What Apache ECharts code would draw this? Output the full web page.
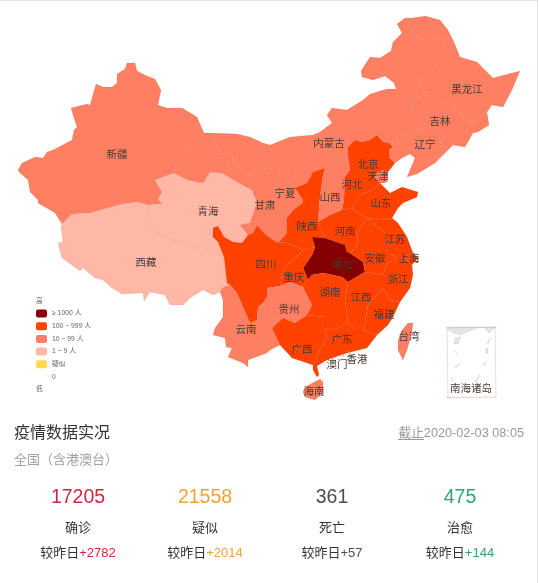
<!DOCTYPE html>
<html><head><meta charset="utf-8">
<script src="https://cdn.jsdelivr.net/npm/echarts@6/dist/echarts.min.js"></script>
<style>
html,body{margin:0;padding:0;background:#fff;overflow:hidden}
#c{position:absolute;left:0;top:0;width:540px;height:583px}
#t{position:absolute;left:0;top:0;width:538px;height:583px;box-sizing:border-box;border-top:1.5px solid #e6e6e6;border-right:1.5px solid #e6e6e6;pointer-events:none}
</style></head><body><div id="c"></div><div id="t"></div>
<script>
// ---- data ----
const provinceNames = ['湖北','浙江','广东','河南','湖南','安徽','江西','重庆','江苏','山东','四川','北京','上海','福建','陕西','广西','河北','云南','黑龙江','海南','山西','辽宁','天津','吉林','甘肃','贵州','内蒙古','宁夏','新疆','香港','台湾','青海','澳门','西藏'];
const provinceValues = [11177,724,683,566,521,408,391,300,271,225,207,212,203,179,128,127,126,99,95,71,66,64,60,42,40,38,34,31,21,15,10,9,8,1];
const legendLabels = ['≥ 1000 人','100 ~ 999 人','10 ~ 99 人','1 ~ 9 人','疑似','0'];
const statNames = ['确诊','疑似','死亡','治愈'];
const statValues = ['17205','21558','361','475'];
const statDeltas = ['+2782','+2014','+57','+144'];
const headline = '疫情数据实况';
const scopeText = '全国（含港澳台）';
const updatedAt = '2020-02-03 08:05';

// ---- map geometry: shared province borders ----
const A = {
xj_outer:[[62,224],[55,213],[38,203],[38,200],[30,192],[28,180],[20,173],[18,170],[22,163],[35,157],[43,158],[47,152],[53,150],[72,140],[74,130],[77,127],[73,115],[71,108],[87,104],[90,105],[96,84],[103,87],[112,87],[117,83],[117,74],[125,69],[127,63],[135,63],[137,71],[147,76],[155,79],[161,90],[158,105],[167,108],[182,108],[197,117],[204,133]],
xj_gs:[[204,133],[201,138],[193,144],[183,148],[176,163],[174,173]],
xj_qh:[[174,173],[155,180],[162,192],[158,199],[162,204],[148,205]],
xj_xz:[[148,205],[137,202],[122,204],[90,213],[72,214],[62,224]],
xz_outer:[[62,224],[61,228],[63,242],[58,243],[62,258],[80,271],[83,268],[95,278],[103,280],[112,288],[122,294],[143,293],[144,301],[150,292],[165,295],[170,305],[183,305],[190,298],[203,290],[213,295],[220,292]],
xz_yn:[[220,292],[222,288],[230,285]],
xz_sc:[[230,285],[227,283],[224,257],[218,242]],
qh_xz:[[218,242],[213,245],[202,253],[195,245],[167,238],[150,227],[148,205]],
gs_qh:[[174,173],[188,180],[203,183],[210,172],[222,173],[237,182],[252,190],[257,202],[250,223],[240,225],[248,235]],
qh_sc:[[248,235],[242,243],[233,242],[224,237],[218,226],[213,228],[213,237],[218,242]],
gs_outer:[[204,133],[212,133]],
nm_gs:[[212,133],[220,155],[233,153],[232,163],[248,177],[253,172],[267,168],[283,170]],
gs_nx:[[283,170],[278,177],[275,190],[272,200],[283,213],[293,210]],
nx_nm:[[283,170],[290,173],[288,183],[295,188]],
nx_sn:[[295,188],[303,200],[303,203],[293,210]],
gs_sn:[[293,210],[287,218],[287,233],[278,243]],
gs_sc:[[278,243],[270,238],[263,232],[257,225],[253,233],[248,235]],
nm_sn:[[295,188],[307,183],[313,172],[325,168]],
sn_sxi:[[325,168],[323,175],[320,197],[318,222]],
sn_hn:[[318,222],[322,232],[325,238]],
sn_hb:[[325,238],[312,237],[315,247]],
sn_cq:[[315,247],[303,250]],
sn_sc:[[303,250],[285,242],[278,243]],
nm_sxi:[[325,168],[348,155]],
he_sxi:[[348,155],[350,170],[345,177],[344,200],[342,210]],
hn_sxi:[[342,210],[330,215],[318,222]],
nm_he:[[348,155],[348,147],[355,140],[362,142],[370,140],[377,135],[383,142],[389,143],[393,147]],
ln_he:[[393,147],[389,150],[389,157],[395,163]],
he_coast:[[395,163],[388,172],[387,182],[380,183]],
he_sd:[[380,183],[372,190],[360,195],[352,208]],
he_hn:[[352,208],[342,210]],
sd_coast:[[380,183],[390,193],[402,187],[418,192],[417,197],[403,203],[398,208],[392,218]],
sd_js:[[392,218],[380,220],[367,218]],
sd_hn:[[367,218],[358,213],[352,208]],
ah_hn:[[367,218],[357,233],[358,245],[350,253]],
hb_hn:[[350,253],[347,252],[345,245],[325,238]],
ah_hb:[[350,253],[363,262],[365,272]],
hb_jx:[[365,272],[348,282]],
hb_hun:[[348,282],[342,277],[323,273],[312,275],[308,280]],
hb_cq:[[308,280],[303,268],[312,255],[315,247]],
cq_sc:[[303,250],[293,260],[285,267],[282,275],[280,286]],
cq_gz:[[280,286],[290,282],[303,287]],
cq_hun:[[303,287],[308,280]],
gz_sc:[[280,286],[267,288],[267,297],[263,303]],
sc_yn:[[263,303],[258,307],[257,320],[250,323],[245,312],[237,293],[230,285]],
gz_hun:[[303,287],[308,297],[312,305],[307,315]],
gz_gx:[[307,315],[295,323],[283,318],[272,328]],
gz_yn:[[272,328],[268,318],[263,303]],
yn_outer:[[220,292],[223,300],[223,317],[215,328],[213,335],[225,338],[226,347],[232,348],[228,357],[243,363],[248,367],[248,360],[267,353],[270,350],[280,345]],
yn_gx:[[280,345],[272,328]],
gx_coast:[[280,345],[292,358],[313,365]],
gx_gd:[[313,365],[320,350],[327,338],[325,328]],
gx_hun:[[325,328],[325,317],[307,315]],
hun_jx:[[348,282],[345,300],[348,322]],
hun_gd:[[348,322],[335,330],[325,328]],
ah_jx:[[365,272],[383,275]],
jx_zj:[[383,275],[383,288]],
jx_fj:[[383,288],[368,305],[365,323],[363,330]],
jx_gd:[[363,330],[355,330],[348,322]],
ah_js:[[367,218],[373,223],[385,233],[385,250],[397,258]],
ah_zj:[[397,258],[387,263],[383,275]],
js_coast:[[392,218],[398,223],[407,237],[413,253]],
js_sh:[[413,253],[406,256],[405,258]],
js_zj:[[405,258],[397,258]],
sh_coast:[[413,253],[418,258],[412,265]],
sh_zj:[[412,265],[405,258]],
zj_coast:[[412,265],[413,275],[410,288],[400,302]],
zj_fj:[[400,302],[390,300],[383,288]],
fj_coast:[[400,302],[393,317],[388,325],[377,335]],
fj_gd:[[377,335],[363,330]],
gd_coast:[[377,335],[367,348],[347,353],[327,360],[317,366],[319,375],[317,377],[313,370],[313,365]],
nm_ln:[[393,147],[392,137],[396,138],[398,143],[405,135],[413,133],[427,126]],
jl_ln:[[427,126],[437,128],[443,153],[435,163]],
ln_coast:[[435,163],[417,174],[407,177],[415,158],[410,154],[402,158],[395,163]],
nm_jl:[[427,126],[413,113],[410,98],[427,95]],
hl_jl:[[427,95],[453,107],[463,117],[472,125],[487,112]],
jl_coast:[[487,112],[489,125],[478,132],[473,133],[465,147],[453,145],[435,163]],
hl_nm:[[412,18],[407,25],[418,38],[430,42],[440,37],[445,40],[438,57],[433,73],[417,80],[422,88],[427,95]],
hl_outer:[[412,18],[425,16],[440,20],[448,30],[454,42],[460,57],[477,62],[483,68],[493,78],[520,71],[517,78],[512,90],[503,107],[492,105],[487,112]],
nm_outer:[[412,18],[405,18],[397,24],[402,33],[393,42],[391,51],[380,58],[370,57],[361,71],[362,77],[373,80],[385,76],[394,83],[396,89],[387,89],[370,94],[363,100],[347,110],[332,108],[327,115],[332,123],[320,132],[313,135],[290,137],[270,145],[263,143],[250,137],[237,134],[212,133]]
};
function R(s){
  const out=[];
  s.split(' ').forEach(k=>{
    const rev=k[0]==='-'; const arc=A[rev?k.slice(1):k]; const pts=rev?arc.slice().reverse():arc;
    pts.forEach(p=>{const l=out[out.length-1]; if(!l||l[0]!==p[0]||l[1]!==p[1]) out.push(p);});
  });
  const f=out[0],l=out[out.length-1]; if(f[0]!==l[0]||f[1]!==l[1]) out.push(f);
  return out;
}
const rings = {
'新疆':R('xj_outer xj_gs xj_qh xj_xz'),
'西藏':R('xz_outer xz_yn xz_sc qh_xz xj_xz'),
'青海':R('gs_qh qh_sc qh_xz -xj_qh'),
'甘肃':R('gs_outer nm_gs gs_nx gs_sn gs_sc -gs_qh -xj_gs'),
'宁夏':R('nx_nm nx_sn -gs_nx'),
'内蒙古':R('nm_gs nx_nm nm_sn nm_sxi nm_he nm_ln nm_jl -hl_nm nm_outer'),
'陕西':R('nm_sn sn_sxi sn_hn sn_hb sn_cq sn_sc -gs_sn -nx_sn'),
'山西':R('nm_sxi he_sxi hn_sxi -sn_sxi'),
'河北':R('nm_he ln_he he_coast he_sd he_hn -he_sxi'),
'山东':R('sd_coast sd_js sd_hn -he_sd'),
'河南':R('-he_hn -sd_hn ah_hn hb_hn -sn_hn -hn_sxi'),
'湖北':R('-hb_hn ah_hb hb_jx hb_hun hb_cq -sn_hb'),
'重庆':R('-sn_cq -hb_cq -cq_hun -cq_gz -cq_sc'),
'四川':R('-gs_sc -sn_sc cq_sc gz_sc sc_yn xz_sc -qh_sc'),
'贵州':R('-gz_sc cq_gz gz_hun gz_gx gz_yn'),
'云南':R('yn_outer yn_gx gz_yn sc_yn -xz_yn'),
'广西':R('-yn_gx gx_coast gx_gd gx_hun gz_gx'),
'湖南':R('-hb_hun hun_jx hun_gd gx_hun -gz_hun cq_hun'),
'江西':R('-hb_jx ah_jx jx_zj jx_fj jx_gd -hun_jx'),
'安徽':R('ah_js ah_zj -ah_jx -ah_hb -ah_hn'),
'江苏':R('-sd_js js_coast js_sh js_zj -ah_js'),
'上海':R('-js_sh sh_coast sh_zj'),
'浙江':R('-sh_zj zj_coast zj_fj -jx_zj -ah_zj -js_zj'),
'福建':R('-zj_fj fj_coast fj_gd -jx_fj'),
'广东':R('-jx_gd -fj_gd gd_coast gx_gd -hun_gd'),
'辽宁':R('nm_ln jl_ln ln_coast -ln_he'),
'吉林':R('hl_jl jl_coast -jl_ln nm_jl'),
'黑龙江':R('hl_outer -hl_jl -hl_nm'),
'北京':[[360,158],[372,157],[377,165],[370,172],[362,170],[360,158]],
'天津':[[377,172],[382,170],[388,172],[387,182],[380,183],[374,178],[377,172]],
'海南':[[305,387],[320,379],[323,382],[323,393],[315,400],[305,397],[303,392],[305,387]],
'台湾':[[408,323],[413,323],[412,333],[407,350],[403,360],[398,350],[398,340],[402,330],[408,323]],
'香港':[[347,352],[350,351],[350,354],[347,352]],
'澳门':[[342,355],[344,355],[344,357],[342,355]]
};
const labelCenters = {'新疆':[117,154],'西藏':[146,262],'青海':[208,211],'甘肃':[265,205],'宁夏':[285,193],'内蒙古':[329,143],'黑龙江':[467,89],'吉林':[440,121],'辽宁':[425,144],'北京':[368,164],'天津':[378,176],'河北':[352,184],'山西':[330,197],'山东':[381,203],'陕西':[307,226],'河南':[345,231],'江苏':[395,239],'安徽':[375,258],'上海':[409,258],'湖北':[342,264],'四川':[266,264],'重庆':[294,277],'湖南':[330,292],'江西':[361,297],'浙江':[398,279],'福建':[384,314],'贵州':[289,309],'云南':[246,329],'广西':[302,349],'广东':[342,339],'澳门':[337,364],'香港':[357,359],'海南':[314,391],'台湾':[409,336],'南海诸岛':[471,388]};
const rect=(a,b,c,d)=>[[[a,b],[c,b],[c,d],[a,d],[a,b]]];
const nanhai=[
 rect(447,327,496,328),rect(447,397,496,398),rect(447,327,448,398),rect(495,327,496,398),
 [[[447,329],[450,327],[480,327],[470,331],[460,335],[453,333],[447,329]]],
 [[[484,327],[496,327],[489,333],[484,327]]],
 [[[455,338],[461,337],[458,344],[454,344],[455,338]]],
 [[[455,350],[456,350],[458,355],[457,355],[455,350]]],
 [[[455,367],[460,363],[461,364],[456,368],[455,367]]],
 [[[451,377],[452,377],[453,382],[452,382],[451,377]]],
 [[[475,382],[480,374],[481,375],[476,383],[475,382]]],
 [[[483,365],[487,361],[488,362],[484,366],[483,365]]],
 [[[486,348],[488,348],[488,353],[486,353],[486,348]]],
 [[[487,343],[490,338],[491,339],[488,344],[487,343]]]
];
const features=Object.keys(rings).map(n=>({type:'Feature',properties:{name:n,cp:labelCenters[n]},geometry:{type:'Polygon',coordinates:[rings[n]]}}));
features.push({type:'Feature',properties:{name:'南海诸岛',cp:labelCenters['南海诸岛']},geometry:{type:'MultiPolygon',coordinates:nanhai}});
echarts.registerMap('cn',{type:'FeatureCollection',features});

const CJK='"Liberation Sans","Noto Sans CJK SC",sans-serif';
const statColors=['#d0263f','#f2a235','#4d4d4d','#2ba86a'];
const statX=[78,205,332,460];
const pieceColors=['#850000','#ff4200','#ff7f63','#ffb8a5','#ffd84d','#ffffff'];
const graphics=[
 {type:'text',left:14,top:426,style:{text:headline,fill:'#333',font:'16px '+CJK}},
 {type:'text',left:14,top:454,style:{text:scopeText,font:'13px '+CJK,fill:'#a0a0a0'}},
 {type:'text',right:16,top:427,style:{text:'截止'+updatedAt,font:'12.7px '+CJK,fill:'#999'}},
 {type:'line',shape:{x1:398,y1:439.5,x2:424,y2:439.5},style:{stroke:'#999',lineWidth:1}}
];
statNames.forEach((n,i)=>{
 graphics.push({type:'text',x:statX[i],y:498,style:{text:statValues[i],font:'19.5px '+CJK,fill:statColors[i],align:'center',verticalAlign:'middle'}});
 graphics.push({type:'text',x:statX[i],y:528,style:{text:n,font:'13px '+CJK,fill:'#333',align:'center',verticalAlign:'middle'}});
 graphics.push({type:'text',x:statX[i],y:553,style:{text:'{a|较昨日}{b|'+statDeltas[i]+'}',align:'center',verticalAlign:'middle',rich:{a:{fontSize:13,fontFamily:CJK,fill:'#333',color:'#333'},b:{fontSize:13,fontFamily:CJK,fill:statColors[i],color:statColors[i]}}}});
});
const chart=echarts.init(document.getElementById('c'),null,{renderer:'canvas'});
chart.setOption({
 animation:false,
 backgroundColor:'#fff',
 visualMap:{type:'piecewise',left:36,top:298,orient:'vertical',align:'left',padding:0,showLabel:true,itemWidth:11,itemHeight:8,itemGap:4.7,textGap:5,itemSymbol:'roundRect',text:['高','低'],
  textStyle:{fontSize:6.8,color:'#666',fontFamily:CJK},
  pieces:[{min:1000,label:legendLabels[0],color:pieceColors[0]},{min:100,max:999,label:legendLabels[1],color:pieceColors[1]},{min:10,max:99,label:legendLabels[2],color:pieceColors[2]},{min:1,max:9,label:legendLabels[3],color:pieceColors[3]},{value:0.5,label:legendLabels[4],color:pieceColors[4]},{value:0,label:legendLabels[5],color:pieceColors[5]}]},
 series:[{type:'map',map:'cn',left:0,top:0,width:540,height:583,
  projection:{project:p=>p,unproject:p=>p},boundingCoords:[[0,0],[540,583]],
  silent:true,selectedMode:false,
  itemStyle:{areaColor:'#e4e4e4',borderColor:'rgba(130,70,50,0.18)',borderWidth:0.5},
  label:{show:true,fontSize:10.5,color:'#4a3a36',fontFamily:'"Noto Sans CJK SC",sans-serif'},
  data:provinceNames.map((n,i)=>({name:n,value:provinceValues[i]}))}],
 graphic:graphics
});
</script></body></html>
